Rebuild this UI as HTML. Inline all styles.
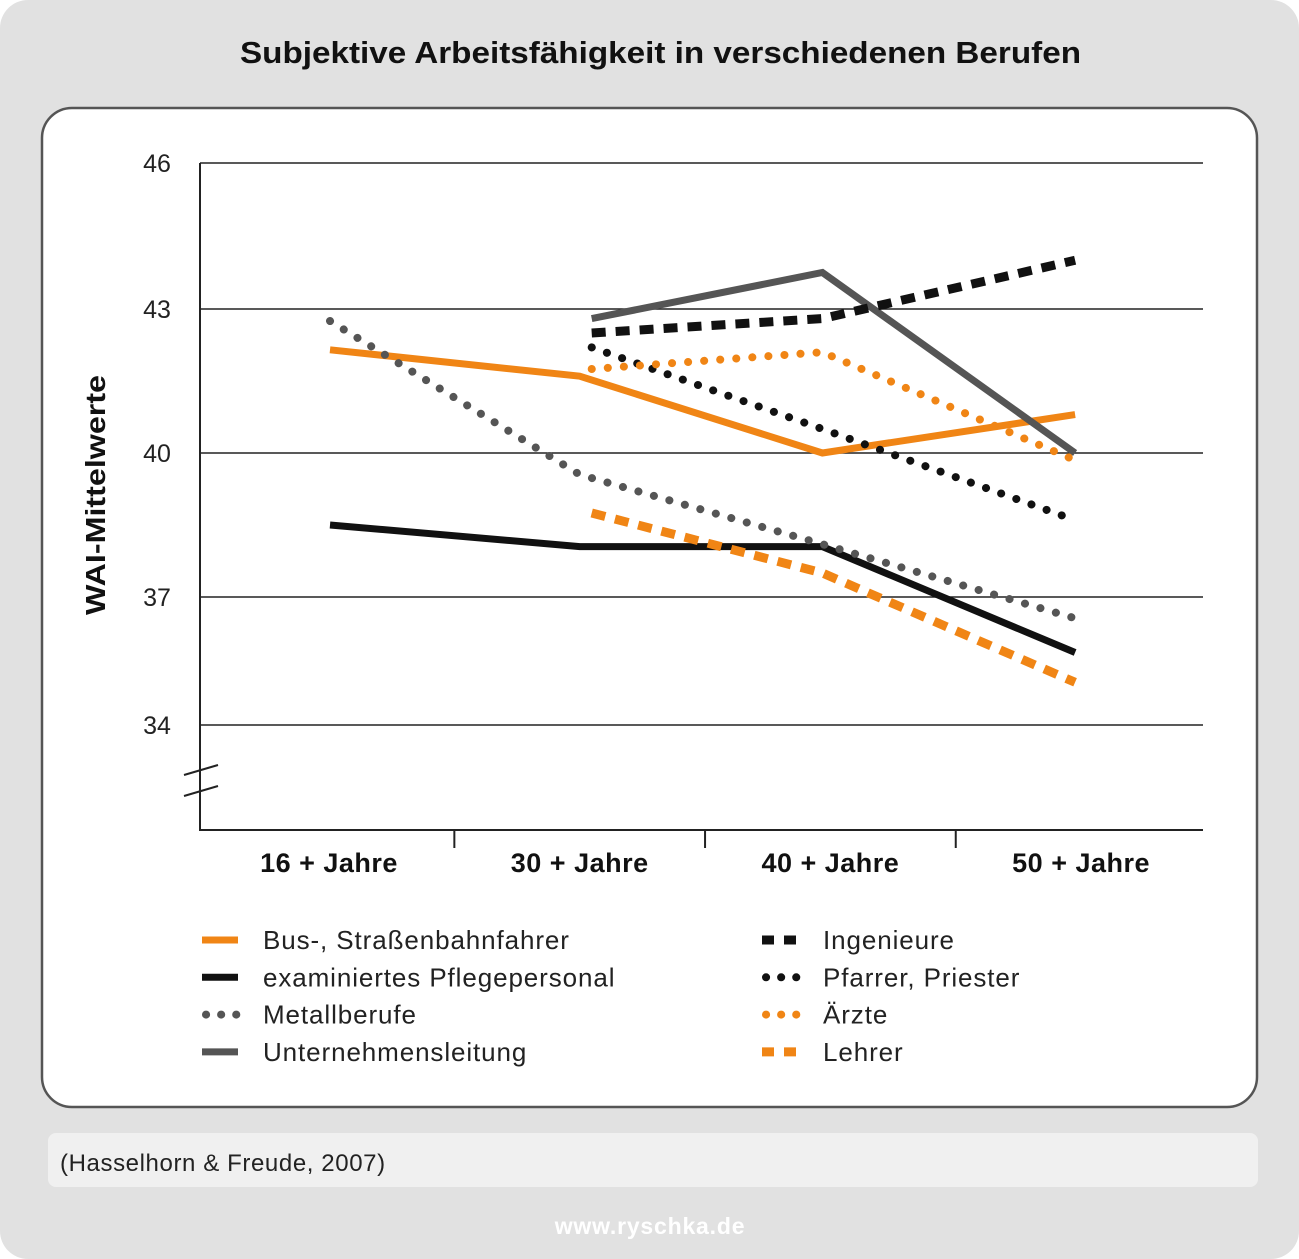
<!DOCTYPE html>
<html><head><meta charset="utf-8">
<style>
body{margin:0;width:1299px;height:1259px;background:#fff;font-family:"Liberation Sans",sans-serif;}
#bg{position:absolute;left:0;top:0;width:1299px;height:1259px;background:#e1e1e1;border-radius:28px;}
</style></head><body>
<div id="bg"></div>
<svg width="1299" height="1259" style="position:absolute;left:0;top:0">
<text x="240" y="63" textLength="841" lengthAdjust="spacingAndGlyphs" font-size="31" font-weight="bold" fill="#111">Subjektive Arbeitsfähigkeit in verschiedenen Berufen</text>
<rect x="42" y="108" width="1215" height="999" rx="30" fill="#fff" stroke="#555" stroke-width="2.5"/>
<g id="grid"></g>
<g id="series"></g>
<g id="axes"></g>
<g id="legend"></g>
<rect x="48" y="1133" width="1210" height="54" rx="8" fill="#f0f0f0"/>
<text x="60" y="1171" font-size="24" letter-spacing="0.6" fill="#222">(Hasselhorn &amp; Freude, 2007)</text>
<text x="650" y="1234" text-anchor="middle" font-size="23" font-weight="bold" letter-spacing="0.8" fill="#fff">www.ryschka.de</text>
</svg>
<script>
const categories=["16 + Jahre","30 + Jahre","40 + Jahre","50 + Jahre"];
const yTicks=[46,43,40,37,34];
const busValues=[42.15,41.6,40.0,40.8];
const pflegeValues=[38.5,38.05,38.05,35.7];
const metallValues=[42.75,39.55,38.1,36.5];
const unternehmenValues=[null,42.8,43.75,40.0];
const ingenieureValues=[null,42.5,42.8,44.0];
const pfarrerValues=[null,42.2,40.5,38.6];
const aerzteValues=[null,41.75,42.1,39.85];
const lehrerValues=[null,38.75,37.5,35.0];
const NS="http://www.w3.org/2000/svg";
const tickPx=[163,309,453,597,725];
function yPos(v){
  for(let i=0;i<yTicks.length-1;i++){
    const a=yTicks[i],b=yTicks[i+1];
    if(v<=a&&v>=b)return tickPx[i]+(a-v)/(a-b)*(tickPx[i+1]-tickPx[i]);
  }
  if(v>yTicks[0])return tickPx[0]-(v-yTicks[0])/3*146;
  return tickPx[4]+(34-v)/3*128;
}
function xPos(i){return 329+i*250.7;}
function mk(tag,attrs,parent){const e=document.createElementNS(NS,tag);for(const k in attrs)e.setAttribute(k,attrs[k]);document.getElementById(parent).appendChild(e);return e;}
yTicks.forEach((t,i)=>{
  const l=mk("line",{x1:200,x2:1203,y1:yPos(t),y2:yPos(t),stroke:"#222","stroke-width":1.5},"grid");
  
  
  const tx=mk("text",{x:157,y:yPos(t)+9,"text-anchor":"middle","font-size":25,fill:"#222"},"axes");
  tx.textContent=t;
  
  
});
const ax=mk("path",{d:"M200 163V830H1203",fill:"none",stroke:"#222","stroke-width":2},"axes");


const br=mk("path",{d:"M184 775L218 765M184 796L218 786",stroke:"#222","stroke-width":2,fill:"none"},"axes");


categories.forEach((c,i)=>{
  const tx=mk("text",{x:xPos(i),y:872,"text-anchor":"middle","font-size":27,"font-weight":"bold","letter-spacing":0.5,fill:"#111"},"axes");
  tx.textContent=c;
  
  
  if(i>0){const tk=mk("line",{x1:(xPos(i)+xPos(i-1))/2,x2:(xPos(i)+xPos(i-1))/2,y1:830,y2:848,stroke:"#222","stroke-width":2},"axes");
  
  }
});
const yt=mk("text",{x:-120,y:0,transform:"translate(105,495) rotate(-90)",textLength:240,lengthAdjust:"spacingAndGlyphs","font-size":28,"font-weight":"bold",fill:"#111"},"axes");
yt.textContent="WAI-Mittelwerte";


const orange="#f08515";
const styles={
 solid:{w:7,dash:null,cap:"butt"},
 dot:{w:8,dash:"0.1 16",cap:"round"},
 dash:{w:9,dash:"14 10",cap:"butt"}
};
const seriesList=[
 {name:"Bus-, Straßenbahnfahrer",vals:busValues,color:orange,st:"solid",key:"bus"},
 {name:"examiniertes Pflegepersonal",vals:pflegeValues,color:"#111",st:"solid",key:"pflege"},
 {name:"Metallberufe",vals:metallValues,color:"#555",st:"dot",key:"metall"},
 {name:"Unternehmensleitung",vals:unternehmenValues,color:"#555",st:"solid",key:"unternehmen"},
 {name:"Ingenieure",vals:ingenieureValues,color:"#111",st:"dash",key:"ingenieure"},
 {name:"Pfarrer, Priester",vals:pfarrerValues,color:"#111",st:"dot",key:"pfarrer"},
 {name:"Ärzte",vals:aerzteValues,color:orange,st:"dot",key:"aerzte"},
 {name:"Lehrer",vals:lehrerValues,color:orange,st:"dash",key:"lehrer"}
];
seriesList.forEach((s,si)=>{
  const pts=[];
  s.vals.forEach((v,i)=>{if(v!==null){let x=xPos(i);if(i===0)x+=1;if(i===2)x-=8;if(i===3)x-=6;if(i===1&&s.vals[0]===null)x+=12;pts.push(x.toFixed(1)+","+yPos(v).toFixed(1));}});
  const st=styles[s.st];
  const a={points:pts.join(" "),fill:"none",stroke:s.color,"stroke-width":st.w,"stroke-linecap":st.cap,"stroke-linejoin":"miter"};
  if(st.dash)a["stroke-dasharray"]=st.dash;
  const p=mk("polyline",a,"series");
  
  
  const col=si<4?0:1,row=si%4;
  const lx=col?762:202,ly=940+row*37.3;
  const la={x1:lx,x2:lx+36,y1:ly,y2:ly,stroke:s.color,"stroke-width":st.w,"stroke-linecap":st.cap};
  if(st.dash)la["stroke-dasharray"]=s.st==="dot"?"0.1 15":"12 10";
  if(s.st==="dot"){la.x1=lx+4;}
  const ll=mk("line",la,"legend");
  
  
  const lt=mk("text",{x:col?823:263,y:ly+9,"font-size":26,"letter-spacing":0.9,fill:"#222"},"legend");
  lt.textContent=s.name;
  
  
});
</script>
</body></html>
